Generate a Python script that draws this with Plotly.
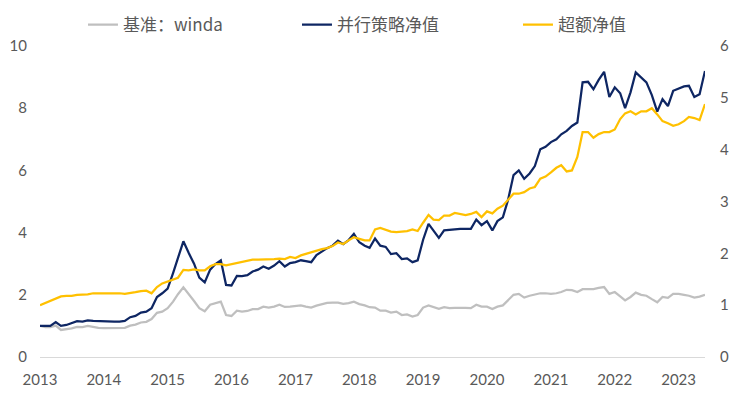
import pandas as pd
import plotly.graph_objects as go

# monthly dates Jan 2013 - Jun 2023
dates = pd.date_range("2013-01-01", "2023-06-01", freq="MS")

benchmark = [
    1.00, 0.96, 0.96, 1.01, 0.87, 0.89, 0.92, 0.97, 0.96, 1.00, 0.96, 0.94,
    0.93, 0.93, 0.93, 0.93, 0.94, 1.01, 1.04, 1.11, 1.13, 1.22, 1.42, 1.46,
    1.57, 1.78, 2.02, 2.24, 2.04, 1.80, 1.57, 1.47, 1.68, 1.73, 1.78, 1.35,
    1.32, 1.49, 1.46, 1.48, 1.54, 1.54, 1.62, 1.59, 1.62, 1.68, 1.61, 1.62,
    1.65, 1.66, 1.62, 1.59, 1.65, 1.70, 1.74, 1.75, 1.75, 1.71, 1.73, 1.78,
    1.70, 1.66, 1.60, 1.59, 1.49, 1.49, 1.43, 1.46, 1.35, 1.37, 1.30, 1.35,
    1.59, 1.66, 1.61, 1.55, 1.60, 1.57, 1.58, 1.59, 1.58, 1.57, 1.68, 1.62,
    1.62, 1.54, 1.62, 1.66, 1.82, 2.00, 2.03, 1.91, 1.97, 2.00, 2.05, 2.05,
    2.03, 2.05, 2.09, 2.16, 2.15, 2.09, 2.18, 2.18, 2.18, 2.22, 2.25, 2.03,
    2.09, 1.95, 1.82, 1.93, 2.07, 2.00, 1.97, 1.86, 1.76, 1.93, 1.90, 2.03,
    2.03, 2.00, 1.97, 1.91, 1.94, 2.00,
]

strategy = [
    1.00, 1.00, 1.00, 1.12, 1.00, 1.03, 1.08, 1.15, 1.14, 1.18, 1.16, 1.15,
    1.14, 1.14, 1.14, 1.14, 1.16, 1.28, 1.32, 1.43, 1.46, 1.57, 1.93, 2.05,
    2.20, 2.70, 3.20, 3.72, 3.35, 3.00, 2.55, 2.40, 2.81, 2.99, 3.11, 2.32,
    2.30, 2.61, 2.60, 2.63, 2.75, 2.81, 2.91, 2.84, 2.94, 3.08, 2.91, 3.02,
    3.05, 3.11, 3.08, 3.05, 3.28, 3.40, 3.50, 3.58, 3.74, 3.63, 3.76, 3.96,
    3.69, 3.58, 3.51, 3.81, 3.58, 3.54, 3.31, 3.34, 3.15, 3.17, 3.05, 3.11,
    3.77, 4.28, 4.05, 3.83, 4.07, 4.09, 4.10, 4.12, 4.12, 4.12, 4.42, 4.24,
    4.37, 4.07, 4.37, 4.49, 5.06, 5.85, 6.00, 5.73, 5.90, 6.14, 6.68, 6.76,
    6.91, 7.00, 7.16, 7.27, 7.43, 7.54, 8.83, 8.85, 8.61, 8.91, 9.17, 8.36,
    8.67, 8.48, 8.00, 8.51, 9.15, 8.99, 8.83, 8.42, 7.89, 8.29, 8.07, 8.56,
    8.63, 8.70, 8.72, 8.36, 8.45, 9.20,
]

excess = [
    1.00, 1.04, 1.08, 1.13, 1.17, 1.18, 1.18, 1.20, 1.20, 1.21, 1.23, 1.23,
    1.24, 1.24, 1.23, 1.23, 1.22, 1.23, 1.25, 1.27, 1.28, 1.23, 1.35, 1.42,
    1.46, 1.50, 1.53, 1.68, 1.67, 1.69, 1.67, 1.67, 1.75, 1.79, 1.79, 1.77,
    1.79, 1.82, 1.83, 1.85, 1.88, 1.88, 1.88, 1.89, 1.89, 1.90, 1.89, 1.93,
    1.91, 1.96, 1.99, 2.01, 2.05, 2.08, 2.10, 2.14, 2.21, 2.18, 2.25, 2.31,
    2.28, 2.25, 2.25, 2.46, 2.49, 2.45, 2.42, 2.41, 2.42, 2.43, 2.46, 2.43,
    2.59, 2.74, 2.65, 2.64, 2.73, 2.73, 2.78, 2.76, 2.74, 2.76, 2.80, 2.70,
    2.81, 2.77, 2.86, 2.92, 3.03, 3.15, 3.15, 3.18, 3.25, 3.28, 3.44, 3.48,
    3.56, 3.65, 3.70, 3.58, 3.60, 3.86, 4.34, 4.34, 4.23, 4.30, 4.34, 4.34,
    4.39, 4.59, 4.70, 4.74, 4.68, 4.74, 4.74, 4.80, 4.68, 4.55, 4.51, 4.46,
    4.49, 4.55, 4.63, 4.61, 4.57, 4.88,
]

names = ["基准：winda", "并行策略净值", "超额净值"]
colors = ["#BFBFBF", "#0E2663", "#FFC000"]
legend_widths = [169, 176, 80]

fig = go.Figure()
fig.add_trace(go.Scatter(x=dates, y=benchmark, name=names[0], mode="lines",
                         legendwidth=legend_widths[0],
                         line=dict(color=colors[0], width=2.25)))
fig.add_trace(go.Scatter(x=dates, y=strategy, name=names[1], mode="lines",
                         legendwidth=legend_widths[1],
                         line=dict(color=colors[1], width=2.25)))
fig.add_trace(go.Scatter(x=dates, y=excess, name=names[2], mode="lines",
                         legendwidth=legend_widths[2],
                         line=dict(color=colors[2], width=2.25), yaxis="y2"))

tick_font = dict(family="Lato, Liberation Sans, sans-serif", size=15, color="#595959")

# page body has an 8px default margin, so the figure is sized to fit the window
fig.update_layout(
    width=730, height=388,
    margin=dict(l=32, r=33, t=38, b=39, autoexpand=False),
    paper_bgcolor="white", plot_bgcolor="white",
    showlegend=True,
    legend=dict(orientation="h", xref="container", yref="container",
                x=0.1027, y=0.956, xanchor="left", yanchor="middle",
                font=dict(family="Noto Sans CJK SC", size=17, color="#595959"),
                bgcolor="rgba(0,0,0,0)"),
    xaxis=dict(type="date", range=[dates[0], dates[-1]],
               tickvals=pd.date_range("2013-01-01", "2023-01-01", freq="YS"),
               tickformat="%Y", showgrid=False, zeroline=False,
               showline=True, linecolor="#D9D9D9", linewidth=1,
               ticks="", tickfont=tick_font, ticklabelstandoff=9,
               automargin=False),
    yaxis=dict(range=[0, 10], dtick=2, showgrid=False, zeroline=False,
               showline=False, ticks="", tickfont=tick_font,
               ticklabelstandoff=12, automargin=False),
    yaxis2=dict(range=[0, 6], dtick=1, overlaying="y", side="right",
                showgrid=False, zeroline=False, showline=False, ticks="",
                tickfont=tick_font, ticklabelstandoff=14, automargin=False),
)

fig.write_html("out.html")
